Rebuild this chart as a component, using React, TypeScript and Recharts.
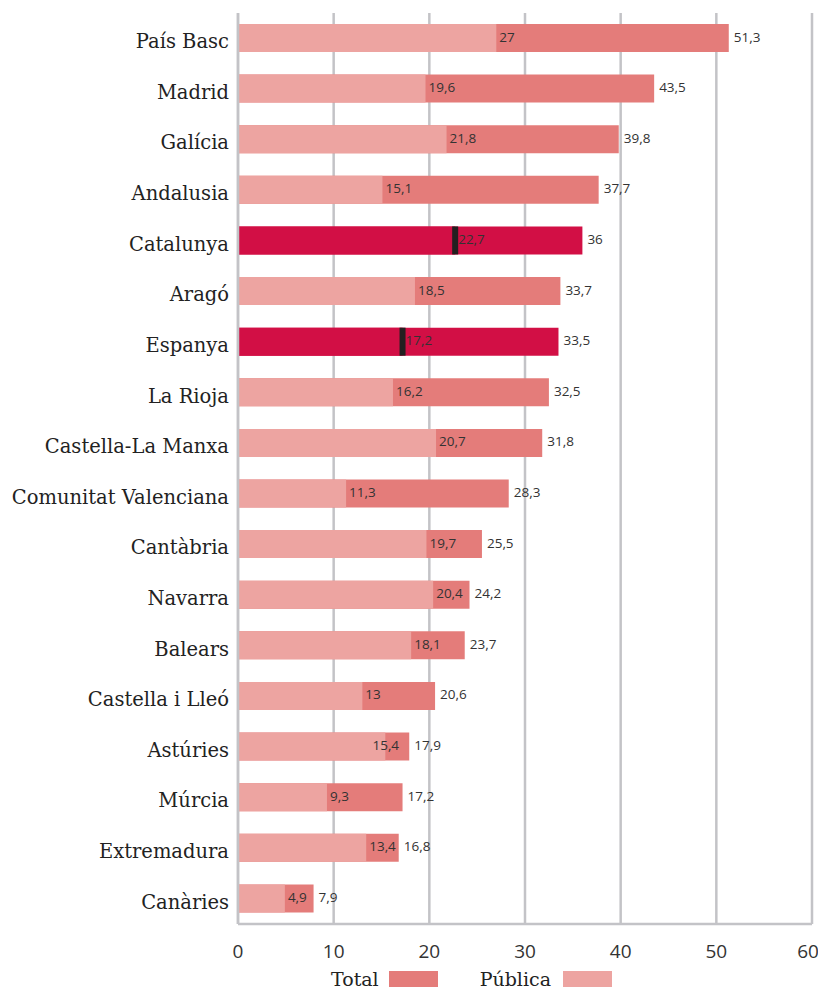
import React from 'react';
import { BarChart, Bar, XAxis, YAxis, CartesianGrid, Cell, LabelList, Legend, Rectangle } from 'recharts';

const regions = [
  'País Basc', 'Madrid', 'Galícia', 'Andalusia', 'Catalunya', 'Aragó', 'Espanya', 'La Rioja',
  'Castella-La Manxa', 'Comunitat Valenciana', 'Cantàbria', 'Navarra', 'Balears',
  'Castella i Lleó', 'Astúries', 'Múrcia', 'Extremadura', 'Canàries',
];
const totalValues = [51.3, 43.5, 39.8, 37.7, 36, 33.7, 33.5, 32.5, 31.8, 28.3, 25.5, 24.2, 23.7, 20.6, 17.9, 17.2, 16.8, 7.9];
const publicValues = [27, 19.6, 21.8, 15.1, 22.7, 18.5, 17.2, 16.2, 20.7, 11.3, 19.7, 20.4, 18.1, 13, 15.4, 9.3, 13.4, 4.9];
const highlighted = ['Catalunya', 'Espanya'];
const xTicks = [0, 10, 20, 30, 40, 50, 60];

const TOTAL_COLOR = '#e47c7a';
const PUBLIC_COLOR = '#eda4a1';
const HIGHLIGHT_COLOR = '#d20f45';
const GRID_COLOR = '#c3c3c7';
const SERIF = "'DejaVu Serif', serif";
const SANS = "'Open Sans', sans-serif";

const data = regions.map((name, i) => ({
  name,
  total: totalValues[i],
  publica: publicValues[i],
  hl: highlighted.includes(name),
}));

const fmt = (v: number) => String(v).replace('.', ',');
const textWidth = (s: string) => s.length * 7.2;

const PublicShape = (props: any) => {
  const { x, y, width, height, payload } = props;
  if (!payload.hl) return <Rectangle x={x} y={y} width={width} height={height} fill={PUBLIC_COLOR} />;
  return (
    <g>
      <Rectangle x={x} y={y} width={width} height={height} fill={HIGHLIGHT_COLOR} />
      <rect x={x + width - 3} y={y} width={6} height={height} fill="#231f20" />
    </g>
  );
};

const TotalLabel = (props: any) => {
  const { x, y, width, height, value } = props;
  return (
    <text x={x + width + 5} y={y + height / 2} dy={3.5} fontSize={13.5} fill="#333" fontFamily={SANS}>
      {fmt(value)}
    </text>
  );
};

// public value sits just after its bar, pulled back inside the total bar when it would spill past it
const PublicLabel = (props: any) => {
  const { x, y, width, height, value, index } = props;
  const i = typeof index === 'number' ? index : publicValues.indexOf(value);
  const perUnit = width / value;
  const totalEnd = x + totalValues[i] * perUnit;
  const label = fmt(value);
  let lx = x + width + 3;
  if (lx + textWidth(label) > totalEnd) lx = totalEnd - 8 - textWidth(label);
  return (
    <text x={lx} y={y + height / 2} dy={3.5} fontSize={13.5} fill="#333" fontFamily={SANS}>
      {label}
    </text>
  );
};

const XTick = (props: any) => {
  const { x, y, payload } = props;
  const shift = payload.value === 60 ? -4 : 0;
  return (
    <text x={x + shift} y={y} dy={26} textAnchor="middle" fontSize={19} fill="#333" fontFamily={SANS}>
      {payload.value}
    </text>
  );
};

const LegendContent = () => (
  <div style={{ display: 'flex', alignItems: 'center', paddingLeft: 323, height: 20, fontFamily: SERIF, fontSize: 19, color: '#222' }}>
    <span>Total</span>
    <span style={{ display: 'inline-block', width: 49, height: 16, background: TOTAL_COLOR, marginLeft: 10, marginRight: 42 }} />
    <span>Pública</span>
    <span style={{ display: 'inline-block', width: 49, height: 16, background: PUBLIC_COLOR, marginLeft: 12 }} />
  </div>
);

export default function App() {
  return (
    <div style={{ height: 989, marginBottom: -8 }}>
      <BarChart
        width={818}
        height={981}
        data={data}
        layout="vertical"
        margin={{ top: 5, right: 14, left: 0, bottom: 0 }}
        barSize={28}
      >
        <CartesianGrid horizontal={false} stroke={GRID_COLOR} strokeWidth={2.5} />
        <XAxis
          type="number"
          domain={[0, 60]}
          ticks={xTicks}
          height={45}
          tickLine={false}
          axisLine={{ stroke: GRID_COLOR, strokeWidth: 2.5 }}
          tick={<XTick />}
        />
        <YAxis
          yAxisId="a"
          type="category"
          dataKey="name"
          width={230}
          tickLine={false}
          axisLine={{ stroke: GRID_COLOR, strokeWidth: 2.5 }}
          tick={{ fill: '#222', fontSize: 19.5, fontFamily: SERIF, dx: -1, dy: 3 }}
          interval={0}
        />
        <YAxis yAxisId="b" type="category" dataKey="name" hide />
        <Legend verticalAlign="bottom" content={<LegendContent />} />
        <Bar yAxisId="a" dataKey="total" name="Total" fill={TOTAL_COLOR} isAnimationActive={false}>
          {data.map((d) => (
            <Cell key={d.name} fill={d.hl ? HIGHLIGHT_COLOR : TOTAL_COLOR} />
          ))}
          <LabelList dataKey="total" content={<TotalLabel />} />
        </Bar>
        <Bar yAxisId="b" dataKey="publica" name="Pública" fill={PUBLIC_COLOR} shape={<PublicShape />} isAnimationActive={false}>
          <LabelList dataKey="publica" content={<PublicLabel />} />
        </Bar>
      </BarChart>
    </div>
  );
}
